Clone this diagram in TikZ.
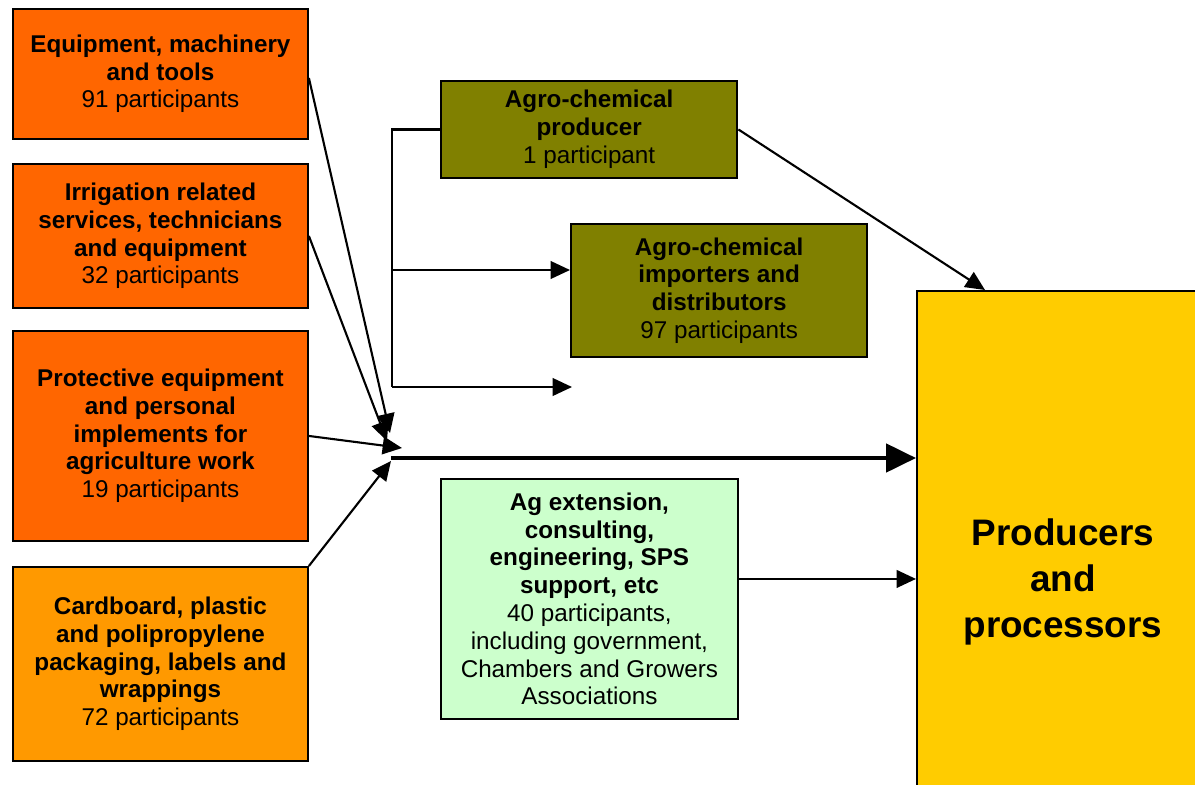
\documentclass[tikz,border=0pt]{standalone}
\usepackage{fontspec}
\setmainfont{Liberation Sans}
\usepackage{xcolor}
\usepackage{tikz}
\usetikzlibrary{arrows.meta, positioning, calc}
\definecolor{orgdark}{HTML}{FF6600}
\definecolor{orglight}{HTML}{FF9900}
\definecolor{olivebox}{HTML}{808000}
\definecolor{greenbox}{HTML}{CCFFCC}
\definecolor{yellowbox}{HTML}{FFCC00}
\tikzset{
  box/.style={rectangle,draw=black,line width=1.1pt,anchor=north west,align=center,inner sep=2pt,font=\fontsize{13.8}{15.8}\selectfont},
  obox/.style={box,fill=orgdark,minimum width=5.9cm},
  lobox/.style={box,fill=orglight,minimum width=5.9cm},
  olbox/.style={box,fill=olivebox,minimum width=5.93cm},
  gbox/.style={box,fill=greenbox,minimum width=5.94cm},
  ybox/.style={box,fill=yellowbox,font=\fontsize{21}{26}\selectfont\bfseries},
  conn/.style={line width=1.2pt},
  arr/.style={-{Triangle[length=11pt,width=10pt]},line width=1.2pt},
  bigarr/.style={-{Triangle[length=17pt,width=16pt]},line width=2.4pt}
}

\begin{document}
\begin{tikzpicture}[x=0.02cm,y=-0.02cm]
  \useasboundingbox (0,0) rectangle (1195,784);

  % suppliers on the left
  \node[obox, minimum height=2.6cm]  (equip) at (12,8)
    {\textbf{Equipment, machinery}\\\textbf{and tools}\\91 participants};
  \node[obox, minimum height=2.88cm] (irrig) at (12,163)
    {\textbf{Irrigation related}\\\textbf{services, technicians}\\\textbf{and equipment}\\32 participants};
  \node[obox, minimum height=4.2cm]  (prot)  at (12,330)
    {\textbf{Protective equipment}\\\textbf{and personal}\\\textbf{implements for}\\\textbf{agriculture work}\\19 participants};
  \node[lobox, minimum height=3.88cm] (pack) at (12,566)
    {\textbf{Cardboard, plastic}\\\textbf{and polipropylene}\\\textbf{packaging, labels and}\\\textbf{wrappings}\\72 participants};

  % agro-chemical chain
  \node[olbox, minimum height=1.94cm] (agprod) at (440,80)
    {\textbf{Agro-chemical}\\\textbf{producer}\\1 participant};
  \node[olbox, minimum height=2.66cm] (agimp) at (570,223)
    {\textbf{Agro-chemical}\\\textbf{importers and}\\\textbf{distributors}\\97 participants};

  % services
  \node[gbox, minimum height=4.8cm] (agext) at (440,478)
    {\textbf{Ag extension,}\\\textbf{consulting,}\\\textbf{engineering, SPS}\\\textbf{support, etc}\\40 participants,\\including government,\\Chambers and Growers\\Associations};

  \node[ybox, minimum width=5.84cm, minimum height=11.64cm] (prod) at (916,290)
    {Producers\\and\\processors};

  % junction points
  \coordinate (in1) at (390,433);
  \coordinate (in2) at (387,441);
  \coordinate (in3) at (402,448);
  \coordinate (in4) at (391,461);
  \coordinate (hub) at (391,458);
  \coordinate (bus1) at (392,270);
  \coordinate (bus2) at (392,387);
  \coordinate (stub) at (572,387);

  \draw[arr] ($(equip.east)+(0,4)$) -- (in1);
  \draw[arr] (irrig.east) -- (in2);
  \draw[arr] (prot.east) -- (in3);
  \draw[arr] (pack.north east) -- (in4);
  \draw[bigarr] (hub) -- (hub -| prod.west);

  \draw[conn] (agprod.west) -| (bus2);
  \draw[arr] (bus1) -- (bus1 -| agimp.west);
  \draw[arr] (bus2) -- (stub);
  \draw[arr] (agprod.east) -- ($(prod.north west)+(69,0)$);

  \draw[arr] ($(agext.east)+(0,-20)$) -- ($(agext.east -| prod.west)+(0,-20)$);
\end{tikzpicture}
\end{document}
